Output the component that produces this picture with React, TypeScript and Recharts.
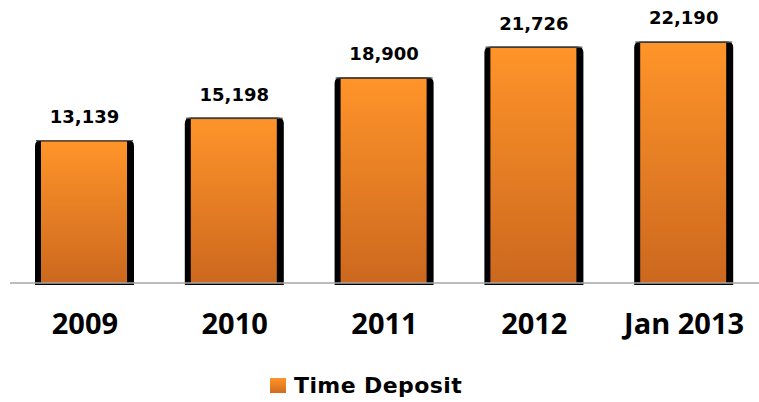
import React from 'react';
import { BarChart, Bar, XAxis, YAxis, Legend, LabelList } from 'recharts';

const categories = ['2009', '2010', '2011', '2012', 'Jan 2013'];
const timeDeposit = [13139, 15198, 18900, 21726, 22190];
const seriesName = 'Time Deposit';

const data = categories.map((c, i) => ({ name: c, value: timeDeposit[i] }));

const BarShape = (props: any) => {
  const { x, y, width, height } = props;
  if (height <= 0) return null;
  const r = 6;
  const bottom = y + height + 2;
  const d = `M${x},${bottom} L${x},${y + r} Q${x},${y} ${x + r},${y} L${x + width - r},${y} Q${x + width},${y} ${x + width},${y + r} L${x + width},${bottom} Z`;
  return (
    <g>
      <path d={d} fill="#000" />
      <rect x={x + 1} y={y} width={width - 2} height={1.2} fill="#555" />
      <rect x={x + 6} y={y + 1.5} width={width - 13} height={height - 1.5} fill="url(#barGrad)" />
    </g>
  );
};

const ValueLabel = (props: any) => {
  const { x, y, width, value } = props;
  return (
    <text
      x={x + width / 2}
      y={y - 17}
      textAnchor="middle"
      fontFamily="DejaVu Sans"
      fontWeight={700}
      fontSize={18}
      fill="#000"
    >
      {Number(value).toLocaleString('en-US')}
    </text>
  );
};

const Tick = (props: any) => {
  const { x, y, payload } = props;
  return (
    <text
      x={x}
      y={y + 43}
      textAnchor="middle"
      fontFamily="Open Sans"
      fontWeight={700}
      fontSize={29}
      fill="#000"
    >
      {payload.value}
    </text>
  );
};

const LegendContent = () => (
  <svg width={759} height={49} style={{ display: 'block' }}>
    <defs>
      <linearGradient id="legGrad" x1="0" y1="0" x2="0" y2="1">
        <stop offset="0%" stopColor="#FF9429" />
        <stop offset="100%" stopColor="#D26C20" />
      </linearGradient>
    </defs>
    <rect x={270} y={25} width={16} height={15} fill="url(#legGrad)" />
    <text
      x={294}
      y={40}
      fontFamily="DejaVu Sans"
      fontWeight={700}
      fontSize={22}
      letterSpacing={0.4}
      fill="#000"
    >
      {seriesName}
    </text>
  </svg>
);

export default function App() {
  return (
    <div style={{ position: 'absolute', left: 0, top: 0, background: '#fff' }}>
      <BarChart
        width={759}
        height={402}
        data={data}
        margin={{ top: 0, right: 0, left: 10, bottom: 0 }}
      >
        <defs>
          <linearGradient id="barGrad" x1="0" y1="0" x2="0" y2="1">
            <stop offset="0%" stopColor="#FF9429" />
            <stop offset="100%" stopColor="#CC681F" />
          </linearGradient>
        </defs>
        <XAxis
          dataKey="name"
          height={70}
          axisLine={{ stroke: '#A6A6A6', strokeWidth: 1.5 }}
          tickLine={false}
          tick={<Tick />}
          interval={0}
        />
        <YAxis hide domain={[0, 26000]} />
        <Legend
          verticalAlign="bottom"
          height={49}
          wrapperStyle={{ left: 0, top: 353, width: 759, height: 49 }}
          content={<LegendContent />}
        />
        <Bar
          dataKey="value"
          name={seriesName}
          barSize={99}
          shape={<BarShape />}
          isAnimationActive={false}
        >
          <LabelList dataKey="value" content={<ValueLabel />} />
        </Bar>
      </BarChart>
    </div>
  );
}
